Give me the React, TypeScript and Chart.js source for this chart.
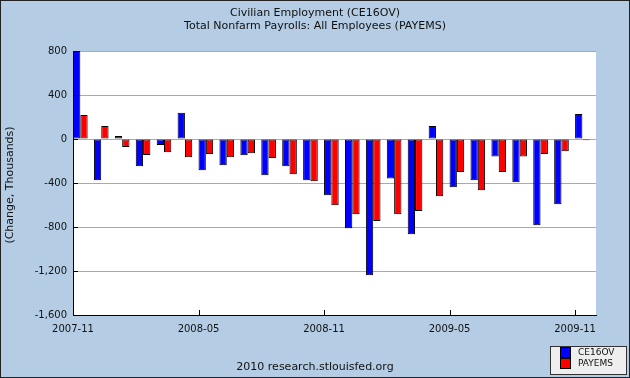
import React, { useEffect, useRef } from "react";
import { Chart, registerables } from "chart.js";

Chart.register(...registerables);

const months = [
  "2007-11", "2007-12", "2008-01", "2008-02", "2008-03", "2008-04", "2008-05",
  "2008-06", "2008-07", "2008-08", "2008-09", "2008-10", "2008-11", "2008-12",
  "2009-01", "2009-02", "2009-03", "2009-04", "2009-05", "2009-06", "2009-07",
  "2009-08", "2009-09", "2009-10", "2009-11",
];
const ce16ov = [
  800, -376, 27, -248, -55, 239, -285, -239, -148, -330, -248, -376, -512,
  -812, -1239, -358, -867, 118, -439, -376, -158, -394, -785, -594, 227,
];
const payems = [
  218, 118, -73, -145, -121, -167, -136, -167, -130, -173, -321, -385, -603,
  -685, -745, -685, -654, -521, -300, -467, -300, -158, -136, -112, -11,
];
const xTickMonths = ["2007-11", "2008-05", "2008-11", "2009-05", "2009-11"];
const yMin = -1600;
const yMax = 800;
const yStep = 400;

const titleLines = [
  "Civilian Employment (CE16OV)",
  "Total Nonfarm Payrolls: All Employees (PAYEMS)",
];
const yTitle = "(Change, Thousands)";
const credit = "2010 research.stlouisfed.org";
const seriesNames = ["CE16OV", "PAYEMS"];

const BG = "#b4cde4";
const FONT = "'DejaVu Sans', sans-serif";
const GROUP_OFFSET = 0.35;

export default function App() {
  const ref = useRef<HTMLCanvasElement | null>(null);

  useEffect(() => {
    const canvas = ref.current;
    if (!canvas) return;

    const decor = {
      id: "decor",
      beforeDraw(chart: any) {
        const { ctx, chartArea } = chart;
        ctx.save();
        ctx.fillStyle = BG;
        ctx.fillRect(0, 0, chart.width, chart.height);
        ctx.fillStyle = "#ffffff";
        ctx.fillRect(
          chartArea.left,
          chartArea.top,
          chartArea.right - chartArea.left,
          chartArea.bottom - chartArea.top
        );
        ctx.restore();
      },
      afterDraw(chart: any) {
        const { ctx, chartArea, scales } = chart;
        const x = scales.x;
        const y = scales.y;
        ctx.save();
        // inside tick marks
        ctx.strokeStyle = "#000";
        ctx.lineWidth = 1;
        ctx.beginPath();
        y.ticks.forEach((t: any) => {
          const py = Math.round(y.getPixelForValue(t.value)) + 0.5;
          ctx.moveTo(chartArea.left, py);
          ctx.lineTo(chartArea.left + 5, py);
        });
        x.ticks.forEach((t: any) => {
          const px = Math.round(x.getPixelForValue(t.value)) + 0.5;
          ctx.moveTo(px, chartArea.bottom);
          ctx.lineTo(px, chartArea.bottom - 5);
        });
        ctx.stroke();

        // titles
        ctx.fillStyle = "#111";
        ctx.font = `11px ${FONT}`;
        ctx.textAlign = "center";
        ctx.textBaseline = "middle";
        ctx.fillText(titleLines[0], 315, 13);
        ctx.fillText(titleLines[1], 315, 26);
        ctx.fillText(credit, 315, 367);

        // y title
        ctx.save();
        ctx.translate(10, (chartArea.top + chartArea.bottom) / 2 + 2);
        ctx.rotate(-Math.PI / 2);
        ctx.fillText(yTitle, 0, 0);
        ctx.restore();

        // legend
        const lx = 550.5, ly = 346.5, lw = 76, lh = 28;
        ctx.fillStyle = "#eeeeee";
        ctx.fillRect(lx, ly, lw, lh);
        ctx.strokeStyle = "#333";
        ctx.strokeRect(lx, ly, lw, lh);
        const colors = ["#0000ff", "#ff0000"];
        ctx.font = `9px ${FONT}`;
        ctx.textAlign = "left";
        seriesNames.forEach((n, i) => {
          const sy = 347.5 + i * 11;
          ctx.fillStyle = colors[i];
          ctx.fillRect(560.5, sy, 10, 10);
          ctx.strokeStyle = "#000";
          ctx.strokeRect(560.5, sy, 10, 10);
          ctx.fillStyle = "#111";
          ctx.fillText(n, 578, sy + 5.5);
        });

        // outer frame
        ctx.strokeStyle = "#222";
        ctx.lineWidth = 1;
        ctx.strokeRect(0.5, 0.5, chart.width - 1, chart.height - 1);
        ctx.restore();
      },
    };

    const chart = new Chart(canvas, {
      type: "bar",
      data: {
        datasets: [
          {
            label: seriesNames[0],
            data: months.map((m, i) => ({ x: i + GROUP_OFFSET, y: ce16ov[i] })),
            backgroundColor: "#0000ff",
            borderColor: "#000",
            borderWidth: 1,
            borderSkipped: false,
          },
          {
            label: seriesNames[1],
            data: months.map((m, i) => ({ x: i + GROUP_OFFSET, y: payems[i] })),
            backgroundColor: "#ff0000",
            borderColor: "#000",
            borderWidth: 1,
            borderSkipped: false,
          },
        ],
      },
      options: {
        responsive: false,
        animation: false,
        devicePixelRatio: 1,
        layout: { padding: { left: 0, top: 51, right: 34, bottom: 0 } },
        plugins: {
          legend: { display: false },
          title: { display: false },
          tooltip: { enabled: false },
        },
        datasets: {
          bar: { barPercentage: 1, categoryPercentage: 0.7 },
        },
        scales: {
          x: {
            type: "linear",
            min: 0,
            max: months.length,
            offset: false,
            grid: { display: true, color: "rgba(0,0,0,0)", drawTicks: false },
            border: { display: true, color: "#000", width: 1 },
            afterBuildTicks: (s: any) => {
              s.ticks = xTickMonths.map((m) => ({ value: months.indexOf(m) }));
            },
            afterFit: (s: any) => {
              s.height = 63;
            },
            ticks: {
              autoSkip: false,
              maxRotation: 0,
              padding: 8,
              color: "#111",
              font: { family: FONT, size: 10 },
              callback: (v: any) => months[v as number] ?? "",
            },
          },
          y: {
            type: "linear",
            min: yMin,
            max: yMax,
            grid: { color: "#aaaaaa", lineWidth: 1, drawTicks: false },
            border: { display: true, color: "#000", width: 1 },
            afterFit: (s: any) => {
              s.width = 73;
            },
            ticks: {
              stepSize: yStep,
              padding: 6,
              color: "#111",
              font: { family: FONT, size: 10 },
              callback: (v: any) => Number(v).toLocaleString("en-US"),
            },
          },
        },
      },
      plugins: [decor],
    });

    return () => chart.destroy();
  }, []);

  return (
    <div style={{ position: "absolute", left: 0, top: 0, width: 630, height: 378 }}>
      <canvas ref={ref} width={630} height={378} style={{ display: "block" }} />
    </div>
  );
}
